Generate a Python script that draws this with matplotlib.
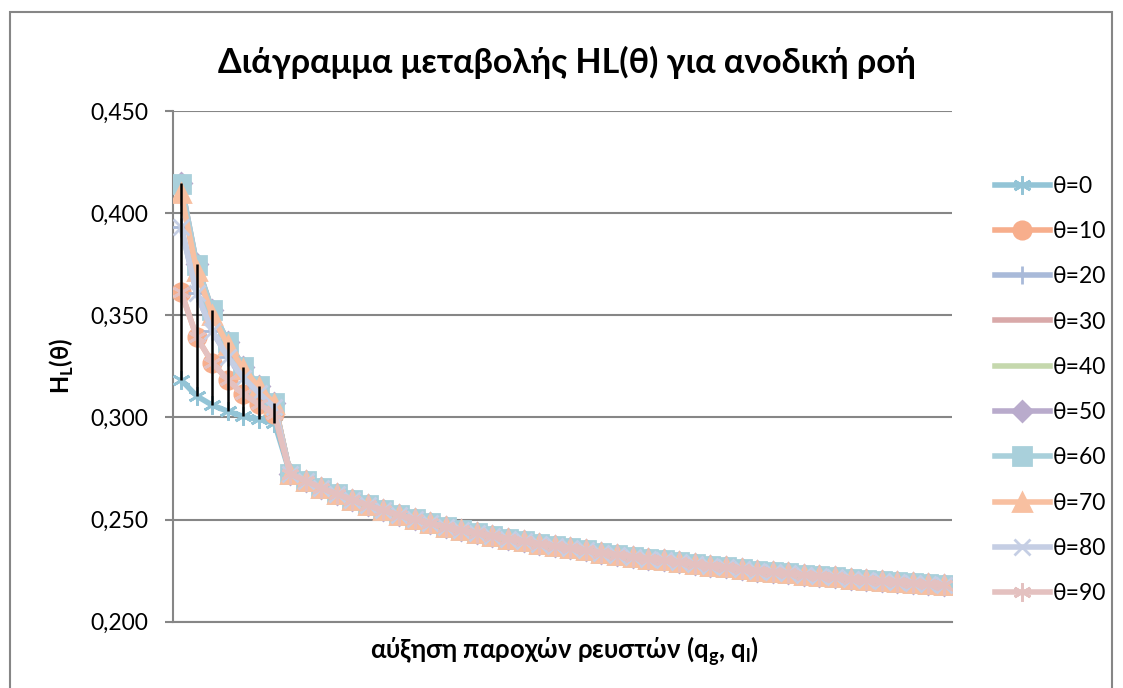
import matplotlib
matplotlib.use("Agg")
import matplotlib.pyplot as plt
from matplotlib.patches import Rectangle
from matplotlib.ticker import FuncFormatter

plt.rcParams["font.family"] = ["Lato", "Open Sans", "DejaVu Sans"]
plt.rcParams["mathtext.fontset"] = "custom"
plt.rcParams["mathtext.bf"] = "Lato:bold"
plt.rcParams["mathtext.rm"] = "Lato"

# first 7 flow points (inclination matters), then every angle gives the same value
hl_0 = [0.3184, 0.3105, 0.3060, 0.3030, 0.3005, 0.2990, 0.2973]
hl_10 = [0.3615, 0.3394, 0.3268, 0.3183, 0.3114, 0.3064, 0.3017]
hl_20 = [0.3934, 0.3608, 0.3423, 0.3296, 0.3195, 0.3119, 0.3049]
hl_30 = [0.4097, 0.3717, 0.3501, 0.3354, 0.3237, 0.3147, 0.3066]
hl_40 = [0.4143, 0.3748, 0.3524, 0.3370, 0.3248, 0.3154, 0.3071]
hl_50 = [0.4146, 0.3750, 0.3525, 0.3371, 0.3249, 0.3155, 0.3071]
hl_60 = [0.4143, 0.3748, 0.3524, 0.3370, 0.3248, 0.3154, 0.3071]
hl_70 = [0.4097, 0.3717, 0.3501, 0.3354, 0.3237, 0.3147, 0.3066]
hl_80 = [0.3934, 0.3608, 0.3423, 0.3296, 0.3195, 0.3119, 0.3049]
hl_90 = [0.3615, 0.3394, 0.3268, 0.3183, 0.3114, 0.3064, 0.3017]

tail = [0.2725, 0.2690, 0.2655, 0.2625, 0.2598, 0.2570, 0.2545, 0.2522, 0.2501,
        0.2482, 0.2465, 0.2449, 0.2434, 0.2420, 0.2406, 0.2394, 0.2382, 0.2370,
        0.2360, 0.2349, 0.2338, 0.2328, 0.2318, 0.2309, 0.2300, 0.2291, 0.2282,
        0.2274, 0.2266, 0.2258, 0.2250, 0.2243, 0.2236, 0.2229, 0.2223, 0.2217,
        0.2211, 0.2205, 0.2199, 0.2194, 0.2189, 0.2183, 0.2178]

labels = ["θ=0", "θ=10", "θ=20", "θ=30", "θ=40", "θ=50", "θ=60", "θ=70", "θ=80", "θ=90"]
heads = [hl_0, hl_10, hl_20, hl_30, hl_40, hl_50, hl_60, hl_70, hl_80, hl_90]

colors = ["#93C4D6", "#F7AE8C", "#A9BAD9", "#D9A9A9", "#C5D8AD",
          "#B9ABCC", "#A9D0DB", "#F8C0A1", "#C5CEE4", "#E4C1C0"]
star = (6, 2, 0)
markers = [star, "o", "+", None, None, "D", "s", "^", "x", star]
msizes = [13, 12.5, 13, 0, 0, 10.5, 13, 13.5, 12, 13]

fig = plt.figure(figsize=(11.23, 6.88), dpi=100)
ax = fig.add_axes([173.3 / 1123, 1 - 621.7 / 688, (951.7 - 173.3) / 1123, (621.7 - 111) / 688])

n = len(hl_0) + len(tail)
x = list(range(n))
series = []
for lab, head, c, m, ms in zip(labels, heads, colors, markers, msizes):
    y = head + tail
    series.append(y)
    ax.plot(x, y, color=c, lw=4.0, marker=m, ms=ms, mec=c, mfc=c, mew=2.0,
            label=lab, solid_joinstyle="round", zorder=3)

# high-low lines
hi = [max(s[i] for s in series) for i in x]
lo = [min(s[i] for s in series) for i in x]
ax.vlines(x, lo, hi, color="black", lw=1.8, zorder=5)

ax.set_xlim(-0.5, n - 0.5)
ax.set_ylim(0.2, 0.45)
ax.set_yticks([0.20, 0.25, 0.30, 0.35, 0.40, 0.45])
ax.yaxis.set_major_formatter(FuncFormatter(lambda v, p: f"{v:.3f}".replace(".", ",")))
ax.set_xticks([])
ax.grid(axis="y", color="#868686", lw=1.5)
ax.set_axisbelow(True)
for s in ["top", "right"]:
    ax.spines[s].set_visible(False)
for s in ["left", "bottom"]:
    ax.spines[s].set_color("#868686")
    ax.spines[s].set_linewidth(1.5)
ax.tick_params(axis="y", length=6, width=1.5, color="#868686", pad=12, labelsize=16.5)

fig.text(567 / 1123, 1 - 62 / 688, "Διάγραμμα μεταβολής HL(θ) για ανοδική ροή",
         ha="center", va="center", fontsize=24.5, fontweight="bold")
fig.text(62 / 1123, 1 - 366 / 688, r"H$_\mathbf{L}$(θ)", rotation=90,
         ha="center", va="center", fontsize=17, fontweight="bold")
fig.text(564 / 1123, 1 - 651 / 688, r"αύξηση παροχών ρευστών (q$_\mathbf{g}$, q$_\mathbf{l}$)",
         ha="center", va="center", fontsize=18.5, fontweight="bold")

fig.legend(loc="upper left", bbox_to_anchor=(974 / 1123, 1 - 155 / 688), frameon=False,
           fontsize=16.5, handlelength=2.4, handletextpad=0.15, labelspacing=1.06)

fig.patches.append(Rectangle((10 / 1123, -0.01), (1112 - 10) / 1123, (688 - 12) / 688 + 0.01,
                             transform=fig.transFigure, fill=False, edgecolor="#868686", lw=1.5))

plt.savefig("out.png", dpi=100)
